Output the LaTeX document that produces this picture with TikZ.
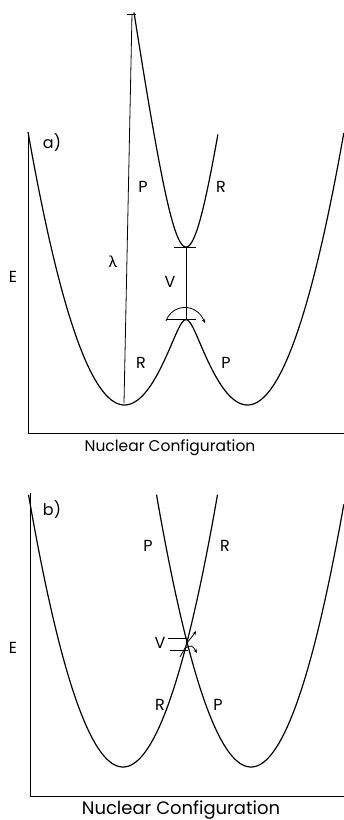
\documentclass[tikz,border=0pt]{standalone}
\usepackage{fontspec}
\setmainfont{Poppins}
\newfontfamily\grk{Lato}
\usetikzlibrary{arrows.meta}
\begin{document}
\begin{tikzpicture}[x=1pt,y=-1pt,
  curve/.style={line width=1.2pt, line join=round},
  axis/.style={line width=0.9pt},
  fine/.style={line width=0.8pt},
  tip/.style={-{Stealth[length=4pt,width=3.5pt]}},
  lbl/.style={font=\fontsize{16}{16}\selectfont, inner sep=0pt},
  xlabel/.style={font=\fontsize{15.5}{16}\selectfont, inner sep=0pt},
  declare function={
    dA(\u)=2.95*(\u-1.24)*(\u-1.24);
    dB(\u)=2.95*(\u-2.48)*(\u-2.48);
    low(\u)=(dA(\u)+dB(\u))/2-sqrt(((dA(\u)-dB(\u))/2)*((dA(\u)-dB(\u))/2)+0.09);
    up(\u)=sqrt(2.7225+49*(\u-1.86)*(\u-1.86))-1.65;
    pA(\u)=3.05*(\u-1.23)*(\u-1.23);
    pB(\u)=3.05*(\u-2.51)*(\u-2.51);
  }]
\useasboundingbox (0,0) rectangle (344,820);

% ---------------- panel a ----------------
\draw[axis] (28,133) -- (28,433) -- (344,433);
\draw[curve] plot[domain=0.28:3.44,samples=220,variable=\u] ({100*\u},{403-100*low(\u)});
\draw[curve] plot[domain=1.34:2.18,samples=120,variable=\u] ({100*\u},{247-100*up(\u)});
% lambda transition
\coordinate (lbot) at (124,403);
\coordinate (ltop) at (132,14);
\draw[fine] (lbot) -- (ltop);
\draw[fine] (127,14) -- (136,14);
% V coupling
\coordinate (vtop) at (186,247);
\coordinate (vbot) at (186,319);
\draw[fine] (vtop) -- (vbot);
\draw[fine] (174,247) -- (196,247);
\draw[fine] (167,319) -- (196,319);
\draw[fine,tip] (166,321) .. controls (172,304) and (196,302) .. (205,323);

\node[lbl] (la) at (52,143) {a)};
\node[lbl] (pa1) at (143,187) {P};
\node[lbl] (ra1) at (221,187) {R};
\node[lbl] (lam) at (113,262) {\grk λ};
\node[lbl] (va) at (170,282) {V};
\node[lbl] (ea) at (13,277) {E};
\node[lbl] (ra2) at (141,363) {R};
\node[lbl] (pa2) at (226,363) {P};
\node[xlabel] (xa) at (170,448) {Nuclear Configuration};

% ---------------- panel b ----------------
\draw[axis] (30,493) -- (30,796) -- (344,796);
\draw[curve] plot[domain=0.285:2.175,samples=160,variable=\u] ({100*\u},{767-100*pA(\u)});
\draw[curve] plot[domain=1.565:3.44,samples=160,variable=\u] ({100*\u},{767-100*pB(\u)});
\draw[fine] (168,638) -- (188,638);
\draw[fine] (170,650) -- (188,650);
\draw[fine,tip] (187,643) .. controls (191,639) .. (196,631);
\draw[fine,tip] (185,648) .. controls (192,645) .. (197,653);
\draw[fine] (180,657) -- (185,648);

\node[lbl] (lb) at (52,510) {b)};
\node[lbl] (pb1) at (148,546) {P};
\node[lbl] (rb1) at (225,546) {R};
\node[lbl] (eb) at (13,648) {E};
\node[lbl] (vb) at (160,643) {V};
\node[lbl] (rb2) at (160,705) {R};
\node[lbl] (pb2) at (218,705) {P};
\node[xlabel,font=\fontsize{18}{18}\selectfont] (xb) at (181,810) {Nuclear Configuration};
\end{tikzpicture}
\end{document}
